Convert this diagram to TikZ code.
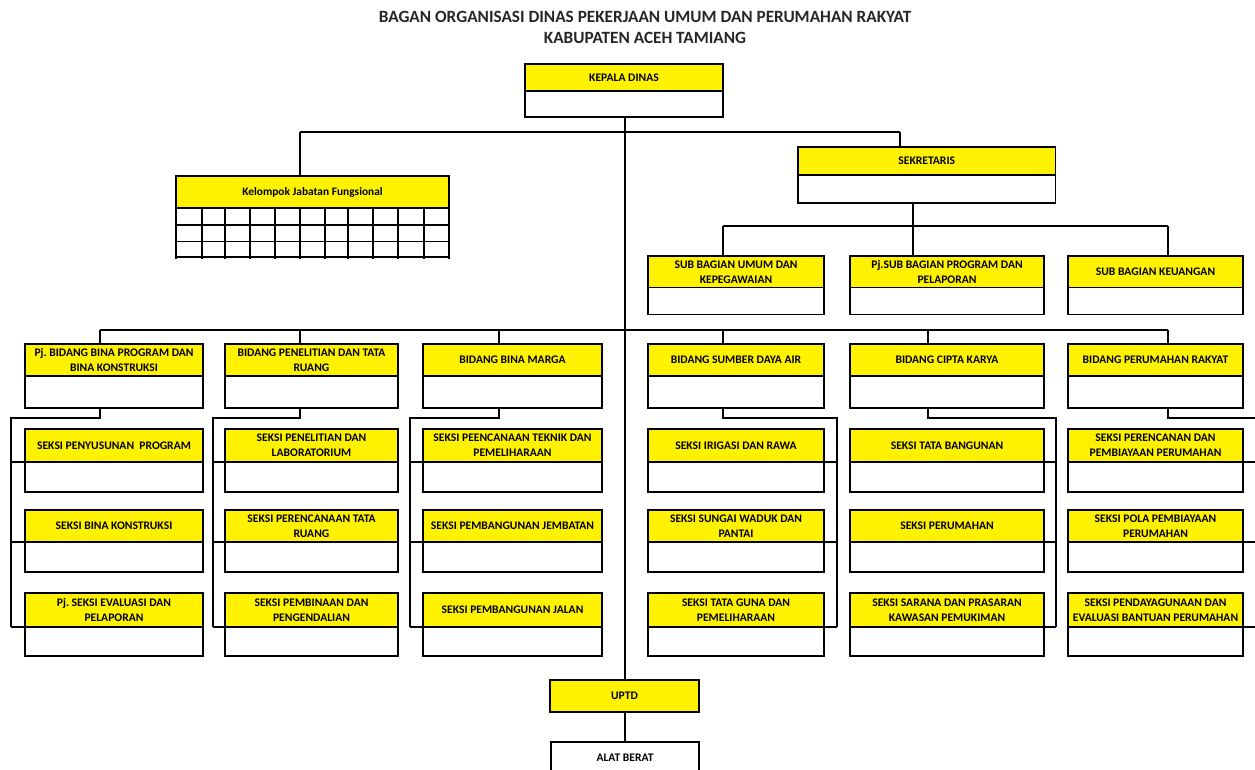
\documentclass[tikz,border=0pt]{standalone}
\usepackage{fontspec}
\setmainfont{Carlito}
\frenchspacing
\tikzset{
 ybox/.style={draw=black, fill=yellow, line width=1.2pt, anchor=north west, inner sep=0pt, outer sep=0pt, align=center, font=\bfseries\fontsize{11.6}{15}\selectfont},
 wbox/.style={draw=black, fill=white, line width=1.2pt, anchor=north west, inner sep=0pt, outer sep=0pt, align=center, font=\bfseries\fontsize{11.6}{15}\selectfont},
 conn/.style={draw=black, line width=1.2pt},
 gridline/.style={draw=black, line width=1.2pt},
 titletext/.style={font=\bfseries\fontsize{17.2}{20}\selectfont, text=black!85},
}
\newcommand\obox[7]{%
 \node[ybox, minimum width=#3pt, minimum height=#5pt] (#1) at (#2,#4) {#7};
 \node[wbox, minimum width=#3pt, minimum height=#6pt] (#1w) at (#1.south west) {};
}
\begin{document}
\begin{tikzpicture}[x=1pt,y=-1pt]
\useasboundingbox (0,0) rectangle (1255,769);
% title
\node[titletext] (t1) at (645,17) {BAGAN ORGANISASI DINAS PEKERJAAN UMUM DAN PERUMAHAN RAKYAT};
\node[titletext] (t2) at (645,38) {KABUPATEN ACEH TAMIANG};
% coordinates
\coordinate (hA) at (300,132);
\coordinate (hB) at (900,132);
\coordinate (tr) at (625,132);
% connectors top
\draw[conn] (hA) -- (hB);
\draw[conn] (hA) -- (300,176);
\draw[conn] (hB) -- (900,147);
\draw[conn] (625,117) -- (625,680);
\draw[conn] (913,203) -- (913,256);
\draw[conn] (723,226) -- (1168,226);
\draw[conn] (723,226) -- (723,256);
\draw[conn] (1168,226) -- (1168,256);
% bidang horizontal
\draw[conn] (100,330) -- (1168,330);
\foreach \x in {100,300,499,723,928,1168} \draw[conn] (\x,330) -- (\x,344);
% brackets
\foreach \dx/\sx in {100/11,300/213,499/410,723/837,928/1056,1168/1257}{
  \draw[conn] (\dx,408) -- (\dx,418) -- (\sx,418) -- (\sx,627);
}
\foreach \bl/\sx in {25/11,225/213,423/410}{
  \foreach \y in {462,542,627} \draw[conn] (\sx,\y) -- (\bl,\y);
}
\foreach \br/\sx in {824/837,1044/1056,1243/1257}{
  \foreach \y in {462,542,627} \draw[conn] (\br,\y) -- (\sx,\y);
}
\draw[conn] (625,712) -- (625,742);
% boxes
\obox{kd}{525}{198}{64}{27}{26}{KEPALA DINAS}
\obox{sek}{798}{257.5}{147}{28}{28}{SEKRETARIS}
\node[ybox, minimum width=273pt, minimum height=32pt, font=\bfseries\fontsize{11.4}{13}\selectfont] (kjf) at (176,176) {Kelompok Jabatan Fungsional};
\foreach \y in {208,225,241.5,257} \draw[gridline] (176,\y) -- (449,\y);
\foreach \x in {176,202,225,250,275,300,325,348,373,398,424,449} \draw[gridline] (\x,208) -- (\x,259);
\obox{sa}{648}{176}{256}{31.5}{27}{SUB BAGIAN UMUM DAN\\KEPEGAWAIAN}
\obox{sb}{850}{194}{256}{31.5}{27}{Pj.SUB BAGIAN PROGRAM DAN\\PELAPORAN}
\obox{sc}{1068}{175}{256}{31.5}{27}{SUB BAGIAN KEUANGAN}
% bidang
\obox{b1}{25}{178}{344}{32}{32}{Pj. BIDANG BINA PROGRAM DAN\\BINA KONSTRUKSI}
\obox{b2}{225}{173}{344}{32}{32}{BIDANG PENELITIAN DAN TATA\\RUANG}
\obox{b3}{423}{179}{344}{32}{32}{BIDANG BINA MARGA}
\obox{b4}{648}{176}{344}{32}{32}{BIDANG SUMBER DAYA AIR}
\obox{b5}{850}{194}{344}{32}{32}{BIDANG CIPTA KARYA}
\obox{b6}{1068}{175}{344}{32}{32}{BIDANG PERUMAHAN RAKYAT}
% seksi row 1
\obox{k11}{25}{178}{429}{33}{30}{SEKSI PENYUSUNAN\ \ PROGRAM}
\obox{k21}{225}{173}{429}{33}{30}{SEKSI PENELITIAN DAN\\LABORATORIUM}
\obox{k31}{423}{179}{429}{33}{30}{SEKSI PEENCANAAN TEKNIK DAN\\PEMELIHARAAN}
\obox{k41}{648}{176}{429}{33}{30}{SEKSI IRIGASI DAN RAWA}
\obox{k51}{850}{194}{429}{33}{30}{SEKSI TATA BANGUNAN}
\obox{k61}{1068}{175}{429}{33}{30}{SEKSI PERENCANAN DAN\\PEMBIAYAAN PERUMAHAN}
% seksi row 2
\obox{k12}{25}{178}{510}{32}{30}{SEKSI BINA KONSTRUKSI}
\obox{k22}{225}{173}{510}{32}{30}{SEKSI PERENCANAAN TATA\\RUANG}
\obox{k32}{423}{179}{510}{32}{30}{SEKSI PEMBANGUNAN JEMBATAN}
\obox{k42}{648}{176}{510}{32}{30}{SEKSI SUNGAI WADUK DAN\\PANTAI}
\obox{k52}{850}{194}{510}{32}{30}{SEKSI PERUMAHAN}
\obox{k62}{1068}{175}{510}{32}{30}{SEKSI POLA PEMBIAYAAN\\PERUMAHAN}
% seksi row 3
\obox{k13}{25}{178}{593}{34}{29}{Pj. SEKSI EVALUASI DAN\\PELAPORAN}
\obox{k23}{225}{173}{593}{34}{29}{SEKSI PEMBINAAN DAN\\PENGENDALIAN}
\obox{k33}{423}{179}{593}{34}{29}{SEKSI PEMBANGUNAN JALAN}
\obox{k43}{648}{176}{593}{34}{29}{SEKSI TATA GUNA DAN\\PEMELIHARAAN}
\obox{k53}{850}{194}{593}{34}{29}{SEKSI SARANA DAN PRASARAN\\KAWASAN PEMUKIMAN}
\obox{k63}{1068}{175}{593}{34}{29}{SEKSI PENDAYAGUNAAN DAN\\EVALUASI BANTUAN PERUMAHAN}
% bottom
\node[ybox, minimum width=149pt, minimum height=32pt] (uptd) at (550,680) {UPTD};
\node[wbox, minimum width=148pt, minimum height=31pt] (alat) at (551,742) {ALAT BERAT};
\end{tikzpicture}
\end{document}
